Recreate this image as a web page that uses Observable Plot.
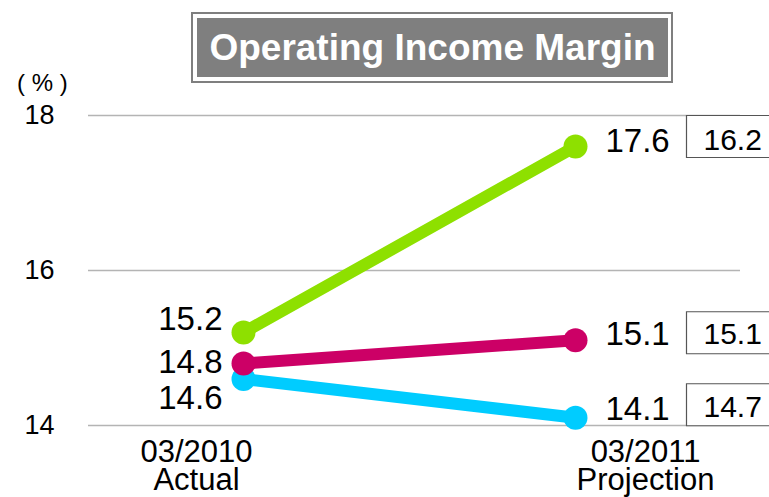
<!DOCTYPE html>
<html>
<head>
<meta charset="utf-8">
<script src="https://cdn.jsdelivr.net/npm/d3@7"></script>
<script src="https://cdn.jsdelivr.net/npm/@observablehq/plot@0.6"></script>
<style>
  html, body { margin: 0; padding: 0; background: white; }
  #wrap { position: relative; width: 769px; height: 497px; overflow: hidden; font-family: "Liberation Sans", Arial, sans-serif; }
  #title { position: absolute; left: 191px; top: 12px; width: 478px; height: 67px; border: 2px solid #7f7f7f; background: white; padding: 0; box-sizing: content-box; }
  #title .inner { position: absolute; left: 4px; top: 4px; right: 3px; bottom: 4px; background: #7f7f7f; color: white; font-weight: bold; font-size: 37px; display: flex; align-items: center; justify-content: center; letter-spacing: 0px; }
  #unit { position: absolute; left: 17px; top: 69px; font-size: 24px; color: #000; }
</style>
</head>
<body>
<div id="wrap">
  <div id="chart"></div>
  <div id="title"><div class="inner">Operating Income Margin</div></div>
  <div id="unit">( % )</div>
</div>
<script>
const periods = ["03/2010\nActual", "03/2011\nProjection"];
const greenValues = [15.2, 17.6];
const magentaValues = [14.8, 15.1];
const cyanValues = [14.6, 14.1];
const previousProjection = [16.2, 15.1, 14.7]; // green, magenta, cyan
const yTicks = [14, 16, 18];

const GREEN = "#8ee000", MAGENTA = "#cc0066", CYAN = "#00ccff";
const fmt = d3.format(".1f");

const series = [
  {name: "green", color: GREEN, values: greenValues, prev: previousProjection[0], leftDy: -13, rightDy: -5, boxDy: -10, boxTextDy: -6.5},
  {name: "magenta", color: MAGENTA, values: magentaValues, prev: previousProjection[1], leftDy: -1.5, rightDy: -5.5, boxDy: -7.5, boxTextDy: -6},
  {name: "cyan", color: CYAN, values: cyanValues, prev: previousProjection[2], leftDy: 19.5, rightDy: -8.5, boxDy: -13, boxTextDy: -10.5}
];

const rows = s => s.values.map((v, i) => ({period: periods[i], value: v, prev: s.prev}));

const boxSymbol = {
  draw(context) {
    const w = 86, h = 42;
    context.rect(-w / 2, -h / 2, w, h);
  }
};

const drawOrder = [series[2], series[1], series[0]];
const marks = [
  Plot.ruleY(yTicks, {stroke: "#b4b4b4", strokeWidth: 1.3}),
  Plot.axisY({ticks: yTicks, tickFormat: d => String(d), tickSize: 0, tickPadding: 34, fontSize: 27, label: null}),
  Plot.axisX({ticks: [], label: null})
];
// category labels (two lines each, offset from the data points as in the reference)
const labelDx = [-47, 70];
periods.forEach((p, i) => {
  const [line1, line2] = p.split("\n");
  marks.push(Plot.text([p], {x: d => d, frameAnchor: "bottom", lineAnchor: "middle", text: () => line1, dx: labelDx[i], dy: 26.5, fontSize: 31, fill: "black"}));
  marks.push(Plot.text([p], {x: d => d, frameAnchor: "bottom", lineAnchor: "middle", text: () => line2, dx: labelDx[i], dy: 54.5, fontSize: 31, fill: "black"}));
});
for (const s of drawOrder) {
  const d = rows(s);
  marks.push(Plot.line(d, {x: "period", y: "value", stroke: s.color, strokeWidth: 12}));
  marks.push(Plot.dot(d, {x: "period", y: "value", fill: s.color, r: 12}));
}
for (const s of series) {
  const d = rows(s);
  marks.push(Plot.text([d[0]], {x: "period", y: "value", text: r => fmt(r.value), textAnchor: "end", dx: -21, dy: s.leftDy, fontSize: 33, fill: "black"}));
  marks.push(Plot.text([d[1]], {x: "period", y: "value", text: r => fmt(r.value), textAnchor: "start", dx: 30, dy: s.rightDy, fontSize: 33, fill: "black"}));
  marks.push(Plot.dot([d[1]], {x: "period", y: "value", symbol: boxSymbol, r: 10, fill: "white", stroke: "#555", strokeWidth: 1.2, dx: 154, dy: s.boxDy}));
  marks.push(Plot.text([d[1]], {x: "period", y: "value", text: r => fmt(r.prev), textAnchor: "start", dx: 128, dy: s.boxTextDy, fontSize: 30, fill: "black"}));
}

const chart = Plot.plot({
  width: 769,
  height: 497,
  marginTop: 115,
  marginBottom: 72,
  marginLeft: 88,
  marginRight: 29,
  x: {type: "point", domain: periods, range: [243, 575], padding: 0},
  y: {domain: [14, 18]},
  style: {fontFamily: "'Liberation Sans', Arial, sans-serif", background: "white", color: "black", overflow: "visible"},
  marks
});
document.getElementById("chart").appendChild(chart);
</script>
</body>
</html>
